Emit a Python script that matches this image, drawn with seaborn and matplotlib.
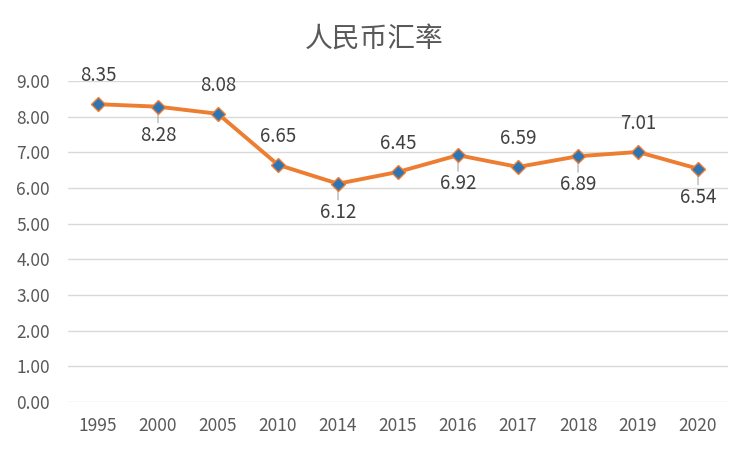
import seaborn as sns
import matplotlib.pyplot as plt
import pandas as pd

years = ['1995', '2000', '2005', '2010', '2014', '2015', '2016', '2017', '2018', '2019', '2020']
rates = [8.35, 8.28, 8.08, 6.65, 6.12, 6.45, 6.92, 6.59, 6.89, 7.01, 6.54]
# label above (+1) or below (-1) the point
label_side = [1, -1, 1, 1, -1, 1, -1, 1, -1, 1, -1]

sns.set_theme(style='white')
plt.rcParams['font.family'] = ['Noto Sans CJK SC', 'DejaVu Sans']

df = pd.DataFrame({'pos': range(len(years)), 'rate': rates})

fig = plt.figure(figsize=(7.49, 4.5), dpi=100)
ax = fig.add_axes([0.0908, 0.1067, 0.8812, 0.7133])

sns.lineplot(data=df, x='pos', y='rate', ax=ax, color='#ED7D31', linewidth=2.8,
             marker='D', markersize=7, markerfacecolor='#2E75B6',
             markeredgecolor='#ED7D31', markeredgewidth=1.0, zorder=3)

for i, (v, s) in enumerate(zip(rates, label_side)):
    if s < 0:
        ax.annotate('', xy=(i, v), xytext=(i, v - 0.45),
                    arrowprops=dict(arrowstyle='-', color='#A6A6A6', lw=0.8,
                                    shrinkA=0, shrinkB=2), zorder=2)
    ax.annotate(f'{v:.2f}', xy=(i, v), xytext=(0, 20.5 * s), textcoords='offset points',
                ha='center', va='center', fontsize=13.5, color='#404040')

ax.set_xlim(-0.5, len(years) - 0.5)
ax.set_ylim(0, 9)
ax.set_yticks(range(0, 10))
ax.set_yticklabels([f'{t:.2f}' for t in range(0, 10)])
ax.set_xticks(range(len(years)))
ax.set_xticklabels(years)
ax.tick_params(axis='both', labelsize=12.5, colors='#595959', length=0)
ax.tick_params(axis='x', pad=11)
ax.tick_params(axis='y', pad=13)
ax.grid(axis='y', color='#D9D9D9', linewidth=1.0)
ax.set_axisbelow(True)
for sp in ax.spines.values():
    sp.set_visible(False)
ax.set_xlabel('')
ax.set_ylabel('')

fig.text(0.5, 0.912, '人民币汇率', ha='center', va='center', fontsize=20, color='#595959')

fig.savefig('out.png', dpi=100)
